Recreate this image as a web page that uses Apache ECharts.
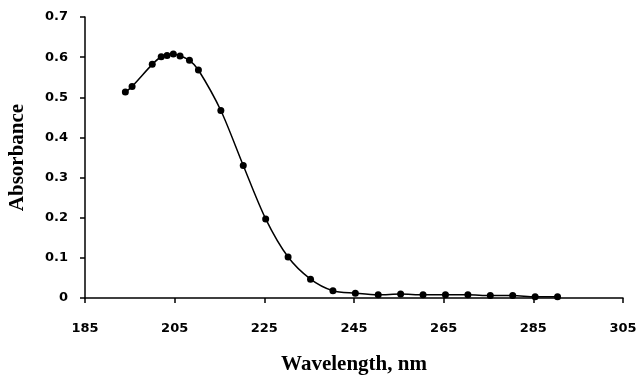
<!DOCTYPE html>
<html>
<head>
<meta charset="utf-8">
<script src="https://cdn.jsdelivr.net/npm/echarts@6/dist/echarts.min.js"></script>
<style>
  html, body { margin: 0; padding: 0; background: #fff; }
  #chart { width: 640px; height: 376px; }
</style>
</head>
<body>
<div id="chart"></div>
<script>
// wavelength (nm) and absorbance
var wavelength = [194, 195.5, 200, 202, 203.3, 204.7, 206.2, 208.3, 210.3, 215.3, 220.3, 225.3, 230.3, 235.3, 240.3, 245.3, 250.4, 255.4, 260.4, 265.4, 270.4, 275.4, 280.4, 285.4, 290.4];
var absorbance = [0.513, 0.527, 0.582, 0.601, 0.604, 0.608, 0.603, 0.592, 0.568, 0.467, 0.330, 0.197, 0.102, 0.047, 0.018, 0.012, 0.008, 0.010, 0.008, 0.008, 0.008, 0.006, 0.006, 0.003, 0.003];
var xTicks = [185, 205, 225, 245, 265, 285, 305];
var yTicks = [0, 0.1, 0.2, 0.3, 0.4, 0.5, 0.6, 0.7];

var points = wavelength.map(function (w, i) { return [w, absorbance[i]]; });

var myChart = echarts.init(document.getElementById('chart'));
var tickFont = { color: '#000', fontFamily: 'DejaVu Sans', fontWeight: 'bold', fontSize: 13 };
var titleFont = { color: '#000', fontFamily: 'Liberation Serif', fontWeight: 'bold', fontSize: 21 };

myChart.setOption({
    animation: false,
    grid: { left: 85, right: 17, top: 17, bottom: 78, containLabel: false, outerBoundsMode: 'none' },
    xAxis: {
        type: 'value',
        min: 185,
        max: 305,
        name: 'Wavelength, nm',
        nameLocation: 'middle',
        nameGap: 56,
        nameTextStyle: titleFont,
        axisLine: { lineStyle: { color: '#000', width: 1.5 } },
        axisTick: { show: true, inside: false, length: 5, customValues: xTicks, lineStyle: { color: '#000', width: 1.5 } },
        axisLabel: { customValues: xTicks, margin: 24, ...tickFont },
        splitLine: { show: false }
    },
    yAxis: {
        type: 'value',
        min: 0,
        max: 0.7,
        interval: 0.1,
        name: 'Absorbance',
        nameLocation: 'middle',
        nameGap: 57,
        nameTextStyle: titleFont,
        axisLine: { show: true, lineStyle: { color: '#000', width: 1.5 } },
        axisTick: { show: true, inside: false, length: 5, customValues: yTicks, lineStyle: { color: '#000', width: 1.5 } },
        axisLabel: {
            customValues: yTicks,
            margin: 17,
            formatter: function (v) { return v === 0 ? '0' : v.toFixed(1); },
            ...tickFont
        },
        splitLine: { show: false }
    },
    series: [
        {
            type: 'line',
            data: points,
            smooth: 0.3,
            symbol: 'circle',
            symbolSize: 7,
            lineStyle: { color: '#000', width: 1.5 },
            itemStyle: { color: '#000' }
        }
    ]
});
</script>
</body>
</html>
